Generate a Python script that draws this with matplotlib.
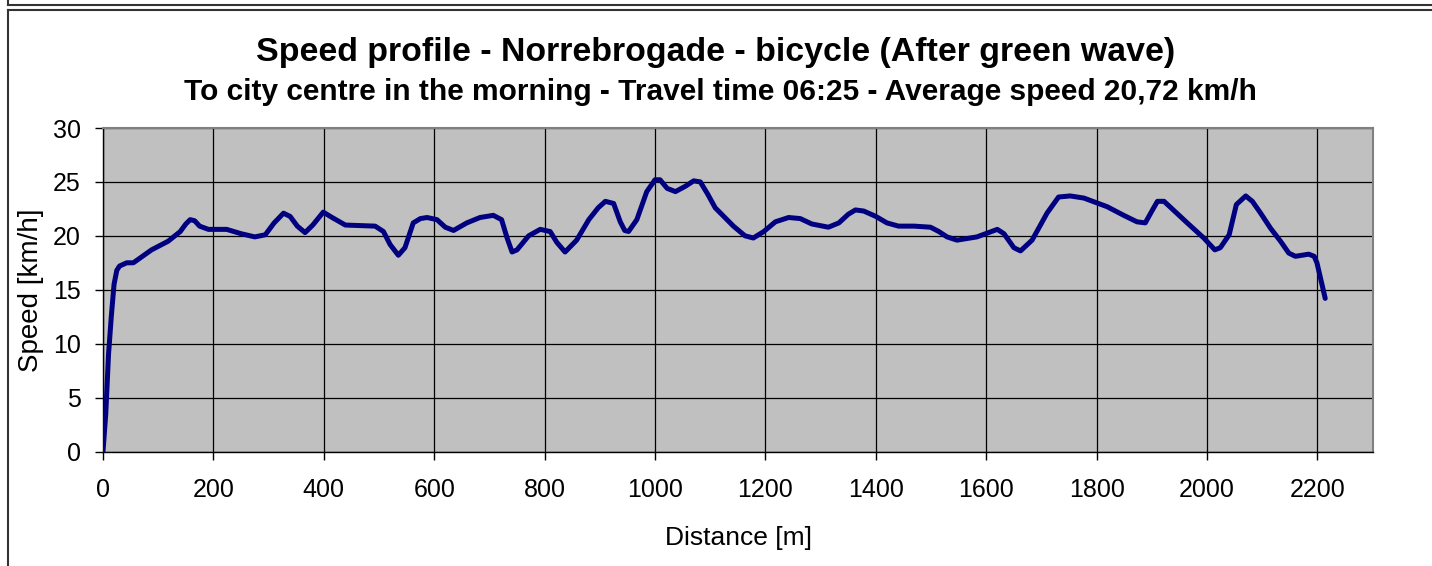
import matplotlib
matplotlib.use("Agg")
import matplotlib.pyplot as plt
from matplotlib.lines import Line2D

# Data
distance_m = [0, 5, 10, 15, 20, 25, 30, 43, 55, 88, 118, 140, 150, 158, 166, 175, 191, 224,
              250, 275, 294, 310, 327, 339, 352, 366, 380, 399, 415, 439, 493, 508, 520, 535,
              547, 562, 575, 587, 605, 620, 635, 659, 683, 707, 722, 732, 741, 750, 771, 792,
              810, 822, 837, 858, 880, 897, 910, 925, 937, 945, 952, 967, 985, 1000, 1009,
              1022, 1037, 1055, 1070, 1082, 1095, 1109, 1142, 1163, 1178, 1197, 1218, 1242,
              1263, 1284, 1314, 1333, 1350, 1363, 1378, 1400, 1420, 1441, 1469, 1499, 1514,
              1529, 1547, 1583, 1620, 1632, 1650, 1662, 1683, 1710, 1731, 1752, 1777, 1819,
              1849, 1873, 1888, 1900, 1910, 1922, 1964, 1994, 2014, 2024, 2040, 2053, 2070,
              2082, 2097, 2115, 2133, 2148, 2160, 2184, 2194, 2199, 2214]
speed_kmh = [0.0, 3.5, 9.0, 12.5, 15.5, 16.8, 17.2, 17.5, 17.5, 18.7, 19.5, 20.4, 21.1, 21.5,
             21.4, 20.9, 20.6, 20.6, 20.2, 19.9, 20.1, 21.2, 22.1, 21.8, 20.9, 20.3, 21.0,
             22.2, 21.7, 21.0, 20.9, 20.4, 19.2, 18.2, 18.9, 21.2, 21.6, 21.7, 21.5, 20.8,
             20.5, 21.2, 21.7, 21.9, 21.5, 19.8, 18.5, 18.7, 20.0, 20.6, 20.4, 19.4, 18.5,
             19.6, 21.5, 22.6, 23.2, 23.0, 21.3, 20.5, 20.4, 21.5, 24.1, 25.2, 25.2, 24.4,
             24.1, 24.6, 25.1, 25.0, 23.9, 22.6, 20.9, 20.0, 19.8, 20.4, 21.3, 21.7, 21.6,
             21.1, 20.8, 21.2, 22.0, 22.4, 22.3, 21.8, 21.2, 20.9, 20.9, 20.8, 20.4, 19.9,
             19.6, 19.9, 20.6, 20.2, 18.9, 18.6, 19.6, 22.1, 23.6, 23.7, 23.5, 22.7, 21.9,
             21.3, 21.2, 22.3, 23.2, 23.2, 21.2, 19.8, 18.7, 18.9, 20.1, 22.9, 23.7, 23.2,
             22.1, 20.7, 19.5, 18.4, 18.1, 18.3, 18.1, 17.5, 14.2]

x_ticks = list(range(0, 2201, 200))
y_ticks = list(range(0, 31, 5))

title = "Speed profile - Norrebrogade - bicycle (After green wave)"
subtitle = "To city centre in the morning - Travel time 06:25 - Average speed 20,72 km/h"

plt.rcParams['font.family'] = ['Liberation Sans', 'DejaVu Sans']

W, H = 1432, 566
fig = plt.figure(figsize=(W / 100, H / 100), dpi=100)
fig.patch.set_facecolor('white')

ax_l, ax_r, ax_t, ax_b = 103, 1372.7, 128, 451.5
ax_w = ax_r - ax_l
ax_h = ax_b - ax_t
ax = fig.add_axes([ax_l / W, 1 - ax_b / H, ax_w / W, ax_h / H])
ax.set_facecolor('#c0c0c0')
ax.plot(distance_m, speed_kmh, color='#000080', linewidth=3.6, solid_joinstyle='round',
        solid_capstyle='round', zorder=3)

ax.set_xlim(0, 2300)
ax.set_ylim(0, 30)
ax.set_xticks(x_ticks)
ax.set_yticks(y_ticks)
ax.grid(True, color='black', linewidth=0.9, zorder=1)
ax.set_axisbelow(True)

for s in ['top', 'right']:
    ax.spines[s].set_color('#808080')
    ax.spines[s].set_linewidth(1.5)
for s in ['left', 'bottom']:
    ax.spines[s].set_color('black')
    ax.spines[s].set_linewidth(1.0)

ax.tick_params(axis='x', direction='out', length=6, width=1, pad=13, labelsize=18)
ax.tick_params(axis='y', direction='out', length=6, width=1, pad=10, labelsize=18)

ax.set_xlabel("Distance [m]", fontsize=19, va='baseline')
ax.xaxis.set_label_coords((738 - ax_l) / ax_w, (ax_b - 545) / ax_h)
ax.set_ylabel("Speed [km/h]", fontsize=20, va='center')
ax.yaxis.set_label_coords((31 - ax_l) / ax_w, 0.5)

fig.text(0.5, 1 - 61.5 / H, title, ha='center', va='baseline', fontsize=24.4, fontweight='bold')
fig.text((178 + 1263) / 2 / W, 1 - 100 / H, subtitle, ha='center', va='baseline',
         fontsize=21.5, fontweight='bold')

# Frame lines
lc = '#333333'
fig.add_artist(Line2D([8 / W, 8 / W], [1, 1 - 5 / H], color=lc, linewidth=1.5))
fig.add_artist(Line2D([8 / W, 1], [1 - 5 / H, 1 - 5 / H], color=lc, linewidth=1.5))
fig.add_artist(Line2D([8 / W, 1], [1 - 10 / H, 1 - 10 / H], color=lc, linewidth=1.5))
fig.add_artist(Line2D([8 / W, 8 / W], [1 - 10 / H, 0], color=lc, linewidth=1.5))

fig.savefig("out.png", dpi=100)
